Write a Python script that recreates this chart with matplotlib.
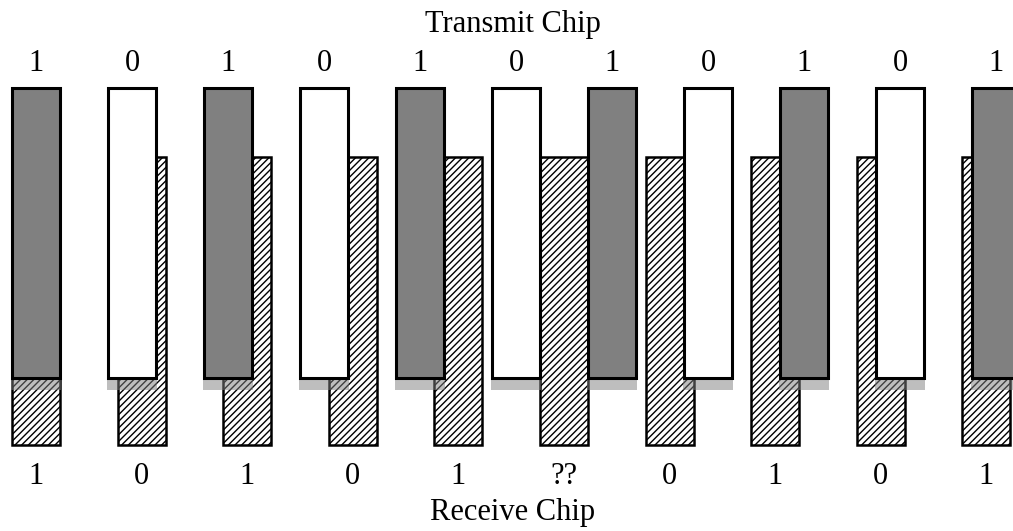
import matplotlib.pyplot as plt
from matplotlib.patches import Rectangle

plt.rcParams['hatch.linewidth'] = 1.0

# chip values
transmit_bits = [1, 0, 1, 0, 1, 0, 1, 0, 1, 0, 1]
receive_labels = ["1", "0", "1", "0", "1", "??", "0", "1", "0", "1"]

# layout (pixels, y grows downwards)
W, H = 1013, 531
x0 = 12
tx_period = 96.0
rx_period = 105.6
bar_w = 48
tx_top, tx_bot = 88, 378
rx_top, rx_bot = 157, 445
shadow_h = 11

fig = plt.figure(figsize=(W / 100, H / 100), dpi=100)
ax = fig.add_axes([0, 0, 1, 1])
ax.set_xlim(0, W)
ax.set_ylim(H, 0)
ax.axis('off')

# receive chips (behind)
rx_x = [x0 + rx_period * j for j in range(len(receive_labels))]
ax.bar(rx_x, rx_bot - rx_top, width=bar_w, bottom=rx_top, align='edge',
       facecolor='white', edgecolor='black', hatch='/////', linewidth=1.8, zorder=1)

# transmit chips
tx_x = [x0 + tx_period * i for i in range(len(transmit_bits))]
tx_colors = ['#808080' if b == 1 else 'white' for b in transmit_bits]
ax.bar(tx_x, tx_bot - tx_top, width=bar_w, bottom=tx_top, align='edge',
       color=tx_colors, edgecolor='black', linewidth=2.2, zorder=3)

# light shadow below each transmit chip
for x in tx_x:
    ax.add_patch(Rectangle((x - 1, tx_bot + 1), bar_w + 2, shadow_h,
                           facecolor='#7f7f7f', alpha=0.5, edgecolor='none', zorder=2))

font = dict(family='Liberation Serif', fontsize=22)
ax.text(513, 32, "Transmit Chip", ha='center', va='baseline', **font)
for x, b in zip(tx_x, transmit_bits):
    ax.text(x + bar_w / 2, 71, str(b), ha='center', va='baseline', **font)
for x, lab in zip(rx_x, receive_labels):
    ax.text(x + bar_w / 2, 484, lab, ha='center', va='baseline', **font)
ax.text(513, 520, "Receive Chip", ha='center', va='baseline', **font)

fig.savefig('out.png', dpi=100)
